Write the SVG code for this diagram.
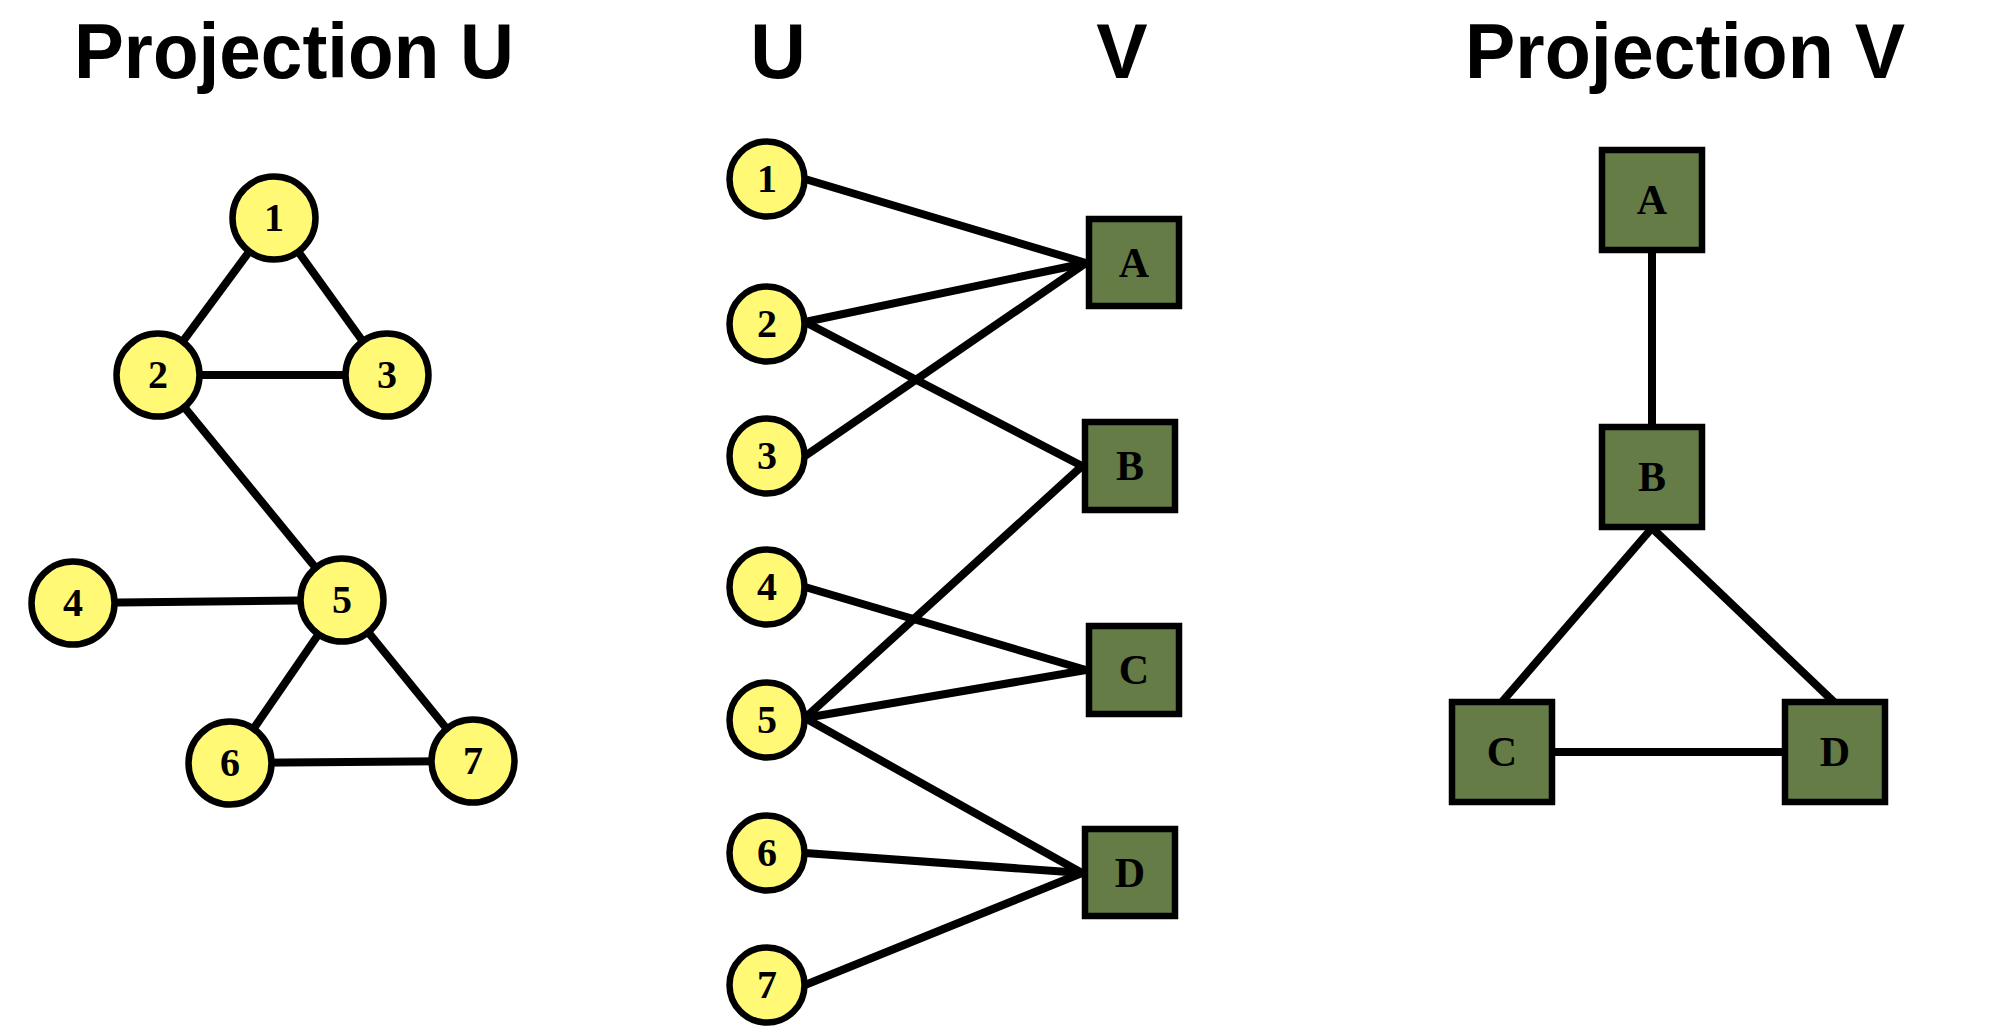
<svg xmlns="http://www.w3.org/2000/svg" width="2000" height="1036" viewBox="0 0 2000 1036">
<style>
.title{font-family:"Liberation Sans",Arial,Helvetica,sans-serif;font-weight:bold;font-size:77px;fill:#000}
.edge{stroke:#000;stroke-width:8;fill:none}
.u{fill:#FFF976;stroke:#000;stroke-width:6.5}
.v{fill:#657C46;stroke:#000;stroke-width:6.5}
.num{font-family:"Liberation Serif","Times New Roman",serif;font-weight:bold;font-size:40px;fill:#000;text-anchor:middle}
.let{font-family:"Liberation Serif","Times New Roman",serif;font-weight:bold;font-size:42px;fill:#000;text-anchor:middle}
</style>
<rect width="2000" height="1036" fill="#fff"/>
<g id="titles">
<text class="title" x="74" y="78" textLength="440" lengthAdjust="spacingAndGlyphs">Projection U</text>
<text class="title" x="778" y="78" text-anchor="middle">U</text>
<text class="title" x="1122" y="78" text-anchor="middle">V</text>
<text class="title" x="1465" y="78" textLength="440" lengthAdjust="spacingAndGlyphs">Projection V</text>
</g>
<g id="connectors">
<line class="edge" x1="274" y1="218" x2="158" y2="375"/>
<line class="edge" x1="274" y1="218" x2="387" y2="375"/>
<line class="edge" x1="158" y1="375" x2="387" y2="375"/>
<line class="edge" x1="158" y1="375" x2="342" y2="600"/>
<line class="edge" x1="73" y1="603" x2="342" y2="600"/>
<line class="edge" x1="342" y1="600" x2="230" y2="763"/>
<line class="edge" x1="342" y1="600" x2="473" y2="761"/>
<line class="edge" x1="230" y1="763" x2="473" y2="761"/>
<line class="edge" x1="805" y1="179" x2="1086" y2="263"/>
<line class="edge" x1="805" y1="322" x2="1086" y2="263"/>
<line class="edge" x1="805" y1="456" x2="1086" y2="263"/>
<line class="edge" x1="805" y1="322" x2="1082" y2="466"/>
<line class="edge" x1="805" y1="718" x2="1082" y2="466"/>
<line class="edge" x1="805" y1="587" x2="1086" y2="670"/>
<line class="edge" x1="805" y1="718" x2="1086" y2="670"/>
<line class="edge" x1="805" y1="718" x2="1082" y2="873"/>
<line class="edge" x1="805" y1="853" x2="1082" y2="873"/>
<line class="edge" x1="805" y1="985" x2="1082" y2="873"/>
<line class="edge" x1="1652" y1="200" x2="1652" y2="477"/>
<line class="edge" x1="1652" y1="528" x2="1501" y2="703"/>
<line class="edge" x1="1652" y1="528" x2="1835" y2="703"/>
<line class="edge" x1="1502" y1="752" x2="1835" y2="752"/>
</g>
<g id="pu1"><circle class="u" cx="274" cy="218" r="41.5"/><text class="num" x="274" y="231">1</text></g>
<g id="pu2"><circle class="u" cx="158" cy="375" r="41.5"/><text class="num" x="158" y="388">2</text></g>
<g id="pu3"><circle class="u" cx="387" cy="375" r="41.5"/><text class="num" x="387" y="388">3</text></g>
<g id="pu4"><circle class="u" cx="73" cy="603" r="41.5"/><text class="num" x="73" y="616">4</text></g>
<g id="pu5"><circle class="u" cx="342" cy="600" r="41.5"/><text class="num" x="342" y="613">5</text></g>
<g id="pu6"><circle class="u" cx="230" cy="763" r="41.5"/><text class="num" x="230" y="776">6</text></g>
<g id="pu7"><circle class="u" cx="473" cy="761" r="41.5"/><text class="num" x="473" y="774">7</text></g>
<g id="u1"><circle class="u" cx="767" cy="179" r="37.5"/><text class="num" x="767" y="192">1</text></g>
<g id="u2"><circle class="u" cx="767" cy="324" r="37.5"/><text class="num" x="767" y="337">2</text></g>
<g id="u3"><circle class="u" cx="767" cy="456" r="37.5"/><text class="num" x="767" y="469">3</text></g>
<g id="u4"><circle class="u" cx="767" cy="587" r="37.5"/><text class="num" x="767" y="600">4</text></g>
<g id="u5"><circle class="u" cx="767" cy="720" r="37.5"/><text class="num" x="767" y="733">5</text></g>
<g id="u6"><circle class="u" cx="767" cy="853" r="37.5"/><text class="num" x="767" y="866">6</text></g>
<g id="u7"><circle class="u" cx="767" cy="985" r="37.5"/><text class="num" x="767" y="998">7</text></g>
<g id="vA"><rect class="v" x="1089" y="219" width="90" height="87"/><text class="let" x="1134" y="277">A</text></g>
<g id="vB"><rect class="v" x="1085" y="422" width="90" height="88"/><text class="let" x="1130" y="480">B</text></g>
<g id="vC"><rect class="v" x="1089" y="626" width="90" height="88"/><text class="let" x="1134" y="684">C</text></g>
<g id="vD"><rect class="v" x="1085" y="829" width="90" height="87"/><text class="let" x="1130" y="887">D</text></g>
<g id="pvA"><rect class="v" x="1602" y="150" width="100" height="100"/><text class="let" x="1652" y="214">A</text></g>
<g id="pvB"><rect class="v" x="1602" y="427" width="100" height="100"/><text class="let" x="1652" y="491">B</text></g>
<g id="pvC"><rect class="v" x="1452" y="702" width="100" height="100"/><text class="let" x="1502" y="766">C</text></g>
<g id="pvD"><rect class="v" x="1785" y="702" width="100" height="100"/><text class="let" x="1835" y="766">D</text></g>
</svg>
